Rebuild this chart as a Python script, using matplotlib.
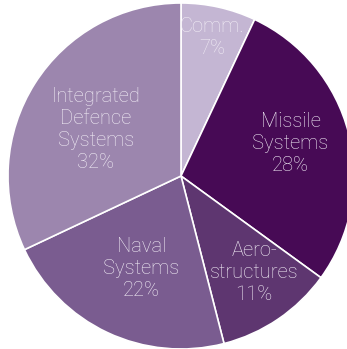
import matplotlib
matplotlib.use("Agg")
import matplotlib.pyplot as plt
import numpy as np

labels = ["Comm.", "Missile\nSystems", "Aero-\nstructures", "Naval\nSystems", "Integrated\nDefence\nSystems"]
values = [7, 28, 11, 22, 32]
colors = ["#c4b6d3", "#470a55", "#5e3670", "#7a5c90", "#9c86ae"]
label_r = [0.82, 0.66, 0.70, 0.58, 0.56]
angle_off = [0, 2, 3, 2, 4]

fig = plt.figure(figsize=(3.47, 3.49), dpi=100)
ax = fig.add_axes([0, 0, 1, 1])
cx, cy, R = 181, 349 - 176, 173
wedges, _ = ax.pie(values, colors=colors, startangle=90, counterclock=False,
                   center=(cx, cy), radius=R,
                   wedgeprops=dict(edgecolor="white", linewidth=1.2))
ax.set_xlim(0, 347)
ax.set_ylim(0, 349)
ax.set_aspect("auto")
ax.axis("off")

for w, lab, v, r, off in zip(wedges, labels, values, label_r, angle_off):
    mid = np.deg2rad((w.theta1 + w.theta2) / 2 + off)
    x = cx + r * R * np.cos(mid)
    y = cy + r * R * np.sin(mid)
    ax.text(x, y, f"{lab}\n{v}%", ha="center", va="center", color="#f1ecf5",
            fontsize=14.5, family=["Roboto", "DejaVu Sans"], fontweight="light",
            linespacing=1.2)

fig.savefig("out.png", dpi=100)
